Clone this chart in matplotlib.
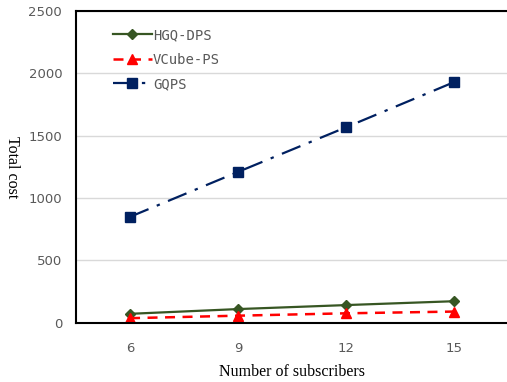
import matplotlib.pyplot as plt
import numpy as np

subscribers = ['6', '9', '12', '15']
hgq_dps = [72, 110, 142, 173]
vcube_ps = [37, 57, 76, 90]
gqps = [850, 1210, 1568, 1930]

fig = plt.figure(figsize=(5.07, 3.82), dpi=100)
ax = fig.add_axes([0.150, 0.155, 0.852, 0.816])

x = np.arange(len(subscribers))
ax.plot(x, hgq_dps, color='#375623', lw=1.6, marker='D', ms=5, label='HGQ-DPS')
ax.plot(x, vcube_ps, color='#FF0000', lw=1.8, ls=(0, (4, 3)), marker='^', ms=7, label='VCube-PS')
ax.plot(x, gqps, color='#002060', lw=1.6, ls=(0, (9, 4, 1.5, 4)), marker='s', ms=7, label='GQPS')

ax.set_xlim(-0.5, 3.5)
ax.set_ylim(0, 2500)
ax.set_xticks(x)
ax.set_xticklabels(subscribers)
ax.set_yticks(range(0, 2501, 500))
ax.tick_params(length=0, labelsize=9.5, labelcolor='#595959', pad=10)
ax.tick_params(axis='x', pad=14)
ax.yaxis.grid(True, color='#D9D9D9', lw=1)
ax.set_axisbelow(True)
for s in ax.spines.values():
    s.set_linewidth(1.5)
    s.set_color('black')

ax.set_xlabel('Number of subscribers', family='Liberation Serif', fontsize=11.5, labelpad=6)
ax.set_ylabel('Total cost', family='Liberation Serif', fontsize=11.5, rotation=270, va='center')
ax.yaxis.set_label_coords(-0.148, 0.5)

leg = ax.legend(loc='upper left', frameon=False, prop={'family': 'DejaVu Sans Mono', 'size': 10},
                labelcolor='#595959', handlelength=2.8, handletextpad=0.1,
                labelspacing=0.75, bbox_to_anchor=(0.056, 0.985))

fig.savefig('out.png', dpi=100)
